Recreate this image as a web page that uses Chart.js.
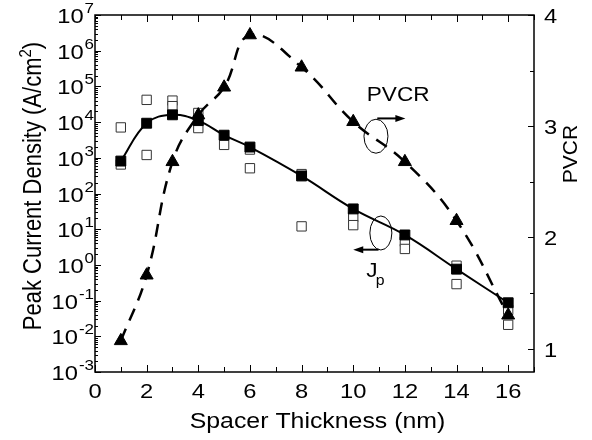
<!DOCTYPE html>
<html>
<head>
<meta charset="utf-8">
<script src="https://cdn.jsdelivr.net/npm/chart.js@4.4.1/dist/chart.umd.min.js"></script>
<style>
  html, body { margin: 0; padding: 0; background: #fff; }
</style>
</head>
<body>
<canvas id="chart" width="592" height="440"></canvas>
<script>
// spacer thickness (nm) of the samples
const thickness = [1, 2, 3, 4, 5, 6, 8, 10, 12, 14, 16];
// peak-to-valley current ratio (right axis)
const pvcr = [1.07, 1.66, 2.68, 3.10, 3.35, 3.82, 3.53, 3.04, 2.68, 2.15, 1.30];
// mean peak current density (A/cm2)
const jpMean = [810, 9300, 16000, 11000, 4300, 2000, 310, 37, 6.9, 0.76, 0.087];
// individual device measurements (hollow squares)
const jpRawX = [1, 1, 2, 2, 3, 3, 4, 4, 5, 6, 6, 8, 8, 10, 10, 12, 12, 14, 14, 16, 16];
const jpRawY = [7100, 650, 42000, 1200, 40000, 28000, 18000, 6800, 2300, 1700, 510, 350, 12, 22, 13, 4.5, 2.8, 0.95, 0.29, 0.055, 0.021];

const xTickLabels = [0, 2, 4, 6, 8, 10, 12, 14, 16];
const leftExponents = [-3, -2, -1, 0, 1, 2, 3, 4, 5, 6, 7];
const rightTickLabels = [1, 2, 3, 4];

const FONT = '"Liberation Sans", Arial, sans-serif';
const STRETCH = 1.13; // the original lettering is a little wide

// horizontal text, slightly stretched like the original
function wideText(ctx, text, x, y, size, align) {
  ctx.save();
  ctx.font = size + 'px ' + FONT;
  ctx.textAlign = align;
  ctx.translate(x, y);
  ctx.scale(STRETCH, 1);
  ctx.fillText(text, 0, 0);
  ctx.restore();
}

// axes, ticks, labels and the little annotations drawn on top
const decorations = {
  id: 'decorations',
  afterDraw(chart) {
    const ctx = chart.ctx;
    const a = chart.chartArea;
    const xs = chart.scales.x, yl = chart.scales.y, yr = chart.scales.y2;
    ctx.save();
    ctx.strokeStyle = '#000';
    ctx.fillStyle = '#000';

    // frame
    ctx.lineWidth = 1.5;
    ctx.strokeRect(a.left, a.top, a.right - a.left, a.bottom - a.top);

    ctx.lineWidth = 1;
    ctx.beginPath();
    // x ticks, bottom and top, pointing inward
    for (let v = 0; v <= 17; v++) {
      const px = Math.round(xs.getPixelForValue(v)) + 0.5;
      const len = v % 2 === 0 ? 7 : 5;
      ctx.moveTo(px, a.bottom); ctx.lineTo(px, a.bottom - len);
      ctx.moveTo(px, a.top); ctx.lineTo(px, a.top + len);
    }
    // left log ticks
    for (let e = -3; e <= 7; e++) {
      const py = Math.round(yl.getPixelForValue(Math.pow(10, e))) + 0.5;
      ctx.moveTo(a.left, py); ctx.lineTo(a.left + 6, py);
      if (e < 7) {
        for (let m = 2; m <= 9; m++) {
          const pm = Math.round(yl.getPixelForValue(m * Math.pow(10, e))) + 0.5;
          ctx.moveTo(a.left, pm); ctx.lineTo(a.left + 3, pm);
        }
      }
    }
    // right linear ticks
    for (let v = 1; v <= 4; v += 0.5) {
      const py = Math.round(yr.getPixelForValue(v)) + 0.5;
      const len = Number.isInteger(v) ? 6 : 4;
      ctx.moveTo(a.right, py); ctx.lineTo(a.right - len, py);
    }
    ctx.stroke();

    ctx.textBaseline = 'alphabetic';

    // x tick labels
    xTickLabels.forEach(v => {
      wideText(ctx, String(v), xs.getPixelForValue(v), 398, 21, 'center');
    });

    // left tick labels 10^n
    leftExponents.forEach(e => {
      const py = yl.getPixelForValue(Math.pow(10, e));
      const exp = e < 0 ? '-' + Math.abs(e) : String(e);
      ctx.font = '15px ' + FONT;
      const ew = ctx.measureText(exp).width * STRETCH;
      wideText(ctx, exp, a.left - 1, py - 2, 15, 'right');
      wideText(ctx, '10', a.left - 2 - ew, py + 8, 21, 'right');
    });

    // right tick labels
    rightTickLabels.forEach(v => {
      wideText(ctx, String(v), a.right + 10, yr.getPixelForValue(v) + 8, 21, 'left');
    });

    // axis titles
    wideText(ctx, 'Spacer Thickness (nm)', (a.left + a.right) / 2 + 3, 428, 22, 'center');

    ctx.save();
    ctx.translate(577, 154);
    ctx.rotate(-Math.PI / 2);
    ctx.font = '21px ' + FONT;
    ctx.textAlign = 'center';
    ctx.fillText('PVCR', 0, 0);
    ctx.restore();

    ctx.save();
    ctx.translate(41, 186);
    ctx.rotate(-Math.PI / 2);
    ctx.scale(1, STRETCH);
    const main = 'Peak Current Density (A/cm';
    ctx.font = '22px ' + FONT;
    const wMain = ctx.measureText(main).width;
    ctx.font = '15px ' + FONT;
    const wSup = ctx.measureText('2').width;
    ctx.font = '22px ' + FONT;
    const wEnd = ctx.measureText(')').width;
    let sx = -(wMain + wSup + wEnd) / 2;
    ctx.textAlign = 'left';
    ctx.fillText(main, sx, 0);
    sx += wMain;
    ctx.font = '15px ' + FONT;
    ctx.fillText('2', sx, -9);
    sx += wSup;
    ctx.font = '22px ' + FONT;
    ctx.fillText(')', sx, 0);
    ctx.restore();

    // annotations (placed in data units of x / right axis)
    const px = v => xs.getPixelForValue(v);
    const py = v => yr.getPixelForValue(v);

    ctx.textBaseline = 'middle';
    wideText(ctx, 'PVCR', px(11.74), py(3.28), 20, 'center');

    ctx.lineWidth = 1;
    ctx.beginPath();
    ctx.ellipse(px(10.88), py(2.91), 12, 17, 0, 0, Math.PI * 2);
    ctx.stroke();
    ctx.beginPath();
    ctx.ellipse(px(11.07), py(2.04), 11, 17, 0, 0, Math.PI * 2);
    ctx.stroke();

    const arrow = (x1, y1, x2, y2) => {
      const dir = Math.sign(x2 - x1);
      ctx.lineWidth = 2;
      ctx.beginPath();
      ctx.moveTo(x1, y1); ctx.lineTo(x2 - dir * 6, y2);
      ctx.stroke();
      ctx.beginPath();
      ctx.moveTo(x2, y2);
      ctx.lineTo(x2 - dir * 10, y2 - 3.5);
      ctx.lineTo(x2 - dir * 10, y2 + 3.5);
      ctx.closePath();
      ctx.fill();
    };
    arrow(px(10.93), py(3.07), px(12.02), py(3.07));
    arrow(px(10.98), py(1.89), px(10.0), py(1.89));

    ctx.textBaseline = 'alphabetic';
    wideText(ctx, 'J', px(10.72), py(1.64), 20, 'center');
    wideText(ctx, 'p', px(11.04), py(1.57), 14, 'center');

    ctx.restore();
  }
};

const ctx = document.getElementById('chart');
new Chart(ctx, {
  type: 'line',
  data: {
    datasets: [
      {
        label: 'PVCR',
        yAxisID: 'y2',
        data: thickness.map((t, i) => ({ x: t, y: pvcr[i] })),
        borderColor: '#000',
        borderWidth: 2.5,
        borderDash: [13, 9],
        tension: 0.42,
        pointStyle: 'triangle',
        pointRadius: 7.5,
        pointBackgroundColor: '#000',
        pointBorderColor: '#000',
        pointBorderWidth: 1,
      },
      {
        label: 'Jp mean',
        yAxisID: 'y',
        data: thickness.map((t, i) => ({ x: t, y: jpMean[i] })),
        borderColor: '#000',
        borderWidth: 2,
        tension: 0.4,
        pointStyle: 'rect',
        pointRadius: 7,
        pointBackgroundColor: '#000',
        pointBorderColor: '#000',
        pointBorderWidth: 1,
      },
      {
        label: 'Jp devices',
        yAxisID: 'y',
        showLine: false,
        data: jpRawX.map((t, i) => ({ x: t, y: jpRawY[i] })),
        pointStyle: 'rect',
        pointRadius: 6.6,
        pointBackgroundColor: '#fff',
        pointBorderColor: '#333',
        pointBorderWidth: 1,
      },
    ],
  },
  options: {
    responsive: false,
    animation: false,
    devicePixelRatio: 1,
    layout: { padding: { top: 15, left: 0, right: 0, bottom: 0 } },
    plugins: {
      legend: { display: false },
      tooltip: { enabled: false },
    },
    scales: {
      x: {
        type: 'linear', position: 'bottom', min: 0, max: 17,
        ticks: { display: false }, grid: { display: false }, border: { display: false },
        afterFit: s => { s.height = 68; },
      },
      y: {
        type: 'logarithmic', position: 'left', min: 1e-3, max: 1e7,
        ticks: { display: false }, grid: { display: false }, border: { display: false },
        afterFit: s => { s.width = 95; },
      },
      y2: {
        type: 'linear', position: 'right', min: 0.79, max: 4,
        ticks: { display: false }, grid: { display: false }, border: { display: false },
        afterFit: s => { s.width = 58; },
      },
    },
  },
  plugins: [decorations],
});
</script>
</body>
</html>
